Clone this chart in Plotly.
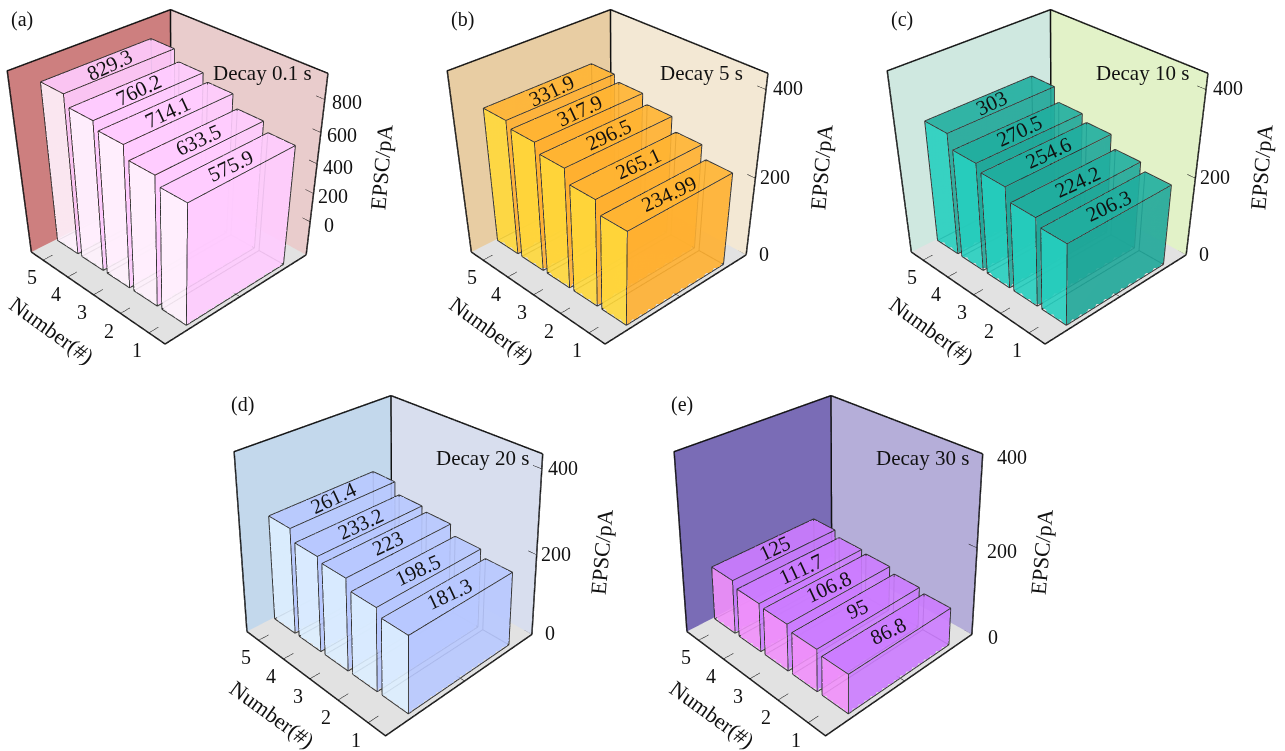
import plotly.graph_objects as go

panels = ["(a)", "(b)", "(c)", "(d)", "(e)"]
decay_labels = ["Decay 0.1 s", "Decay 5 s", "Decay 10 s", "Decay 20 s", "Decay 30 s"]
numbers = [1, 2, 3, 4, 5]
values_a = [575.9, 633.5, 714.1, 760.2, 829.3]
values_b = [234.99, 265.1, 296.5, 317.9, 331.9]
values_c = [206.3, 224.2, 254.6, 270.5, 303]
values_d = [181.3, 198.5, 223, 233.2, 261.4]
values_e = [86.8, 95, 106.8, 111.7, 125]
all_values = [values_a, values_b, values_c, values_d, values_e]
ztick_sets = [[0, 200, 400, 600, 800], [0, 200, 400], [0, 200, 400], [0, 200, 400], [0, 200, 400]]
zranges = [[-250, 950], [0, 433], [0, 433], [0, 433], [0, 400]]
wall_left = ["#cd7f7f", "#e8cda3", "#cfe8e0", "#c3d8ec", "#7a6cb6"]
wall_right = ["#e9cccc", "#f3e8d4", "#e2f2c8", "#d8deee", "#b5aed9"]
bar_front = ["#ffccff", "#ffb030", "#1fa799", "#b8c8ff", "#cc7cff"]
bar_left = ["#fff2fd", "#ffd83a", "#26cfbf", "#dceeff", "#f090fa"]
bar_top = ["#ffccff", "#ffb432", "#20ae9f", "#b8c8ff", "#cc7cff"]
offsets = [(0, 0), (440, 0), (880, 0), (220, 384.7), (660, 384.7)]
label_yshift = [-3, 1, 1, 1, -3]
label_xshift = [(18, 4), (18, 4), (18, 4), (18, 4), (21, 9)]

W, H = 1285, 751
cam_top = (-2.621, -2.7657, 2.2318, -0.971, -1.0595, 1.0016, 0.9739, 176.2441)
cam_bottom = (-2.5861, -2.7421, 2.2754, 1.6772, 1.627, 1.0085, 0.9895, 181.5932)

fig = go.Figure()
ymin, ymax = 0.46, 5.5
xmin, xmax = 0.0, 1.0
bx0, bx1 = 0.16, 0.85
hw = 0.42
layout = dict(width=W, height=H, margin=dict(l=0, r=0, t=0, b=0), autosize=False,
              paper_bgcolor="white", showlegend=False, annotations=[])
FONT = "Liberation Serif"
flat = dict(ambient=1, diffuse=0, specular=0, fresnel=0, roughness=1)


def paper(x, y, text, size=20, **kw):
    layout["annotations"].append(dict(xref="paper", yref="paper", x=x / W, y=1 - y / H, text=text, showarrow=False,
                                      xanchor="center", yanchor="middle",
                                      font=dict(family=FONT, size=size, color="#111"), **kw))


for n in range(5):
    sid = "scene" if n == 0 else f"scene{n+1}"
    ox, oy = offsets[n]
    ex, ey, ez, tx, ty, ay, az, cx = cam_top if n < 3 else cam_bottom
    zmin, zmax = zranges[n]
    vx = [xmin, xmax, xmax, xmin, xmax, xmax, xmax, xmax, xmin, xmax, xmax, xmin]
    vy = [ymax, ymax, ymax, ymax, ymin, ymax, ymax, ymin, ymin, ymin, ymax, ymax]
    vz = [zmin, zmin, zmax, zmax, zmin, zmin, zmax, zmax, zmin, zmin, zmin, zmin]
    ii = [0, 0, 4, 4, 8, 8]
    jj = [1, 2, 5, 6, 9, 10]
    kk = [2, 3, 6, 7, 10, 11]
    fc = [wall_left[n]] * 2 + [wall_right[n]] * 2 + ["#e2e2e2"] * 2
    fig.add_trace(go.Mesh3d(x=vx, y=vy, z=vz, i=ii, j=jj, k=kk, facecolor=fc, flatshading=True, scene=sid,
                            hoverinfo="skip", lighting=flat))
    inner_x, inner_y = xmax - 0.004, ymax - 0.02
    fx = [xmin, xmin, xmax, xmax, None, xmax, xmax, None, xmin, xmin, xmax, None, inner_x, inner_x]
    fy = [ymax, ymax, ymax, ymin, None, ymin, ymin, None, ymax, ymin, ymin, None, inner_y, inner_y]
    fz = [zmin, zmax, zmax, zmax, None, zmax, zmin, None, zmin, zmin, zmin, None, zmax, zmin]
    fig.add_trace(go.Scatter3d(x=fx, y=fy, z=fz, mode="lines", line=dict(color="#111", width=3), scene=sid,
                               hoverinfo="skip"))
    tick_x, tick_y, tick_z = [], [], []
    for v in numbers:
        tick_x += [xmin, xmin + 0.06, None]
        tick_y += [v, v, None]
        tick_z += [zmin, zmin, None]
    tick_x += [0.5, 0.5, None]
    tick_y += [ymin, ymin + 0.25, None]
    tick_z += [zmin, zmin, None]
    for v in ztick_sets[n]:
        tick_x += [xmax, xmax, None]
        tick_y += [ymin, ymin + 0.25, None]
        tick_z += [v, v, None]
    fig.add_trace(go.Scatter3d(x=tick_x, y=tick_y, z=tick_z, mode="lines", line=dict(color="#111", width=2),
                               scene=sid, hoverinfo="skip"))
    X, Y, Z, I, J, K, C = [], [], [], [], [], [], []
    edge_x, edge_y, edge_z = [], [], []
    base_z = zmin + 0.004 * (zmax - zmin)
    for num, val in sorted(zip(numbers, all_values[n]), reverse=True):
        b = len(X)
        y0, y1 = num - hw, num + hw
        X += [bx0, bx1, bx1, bx0, bx0, bx1, bx1, bx0]
        Y += [y0, y0, y1, y1, y0, y0, y1, y1]
        Z += [base_z] * 4 + [val] * 4
        quads = [((3, 0, 4, 7), bar_left[n]), ((0, 1, 5, 4), bar_front[n]), ((4, 5, 6, 7), bar_top[n])]
        for q, c in quads:
            I += [b + q[0], b + q[0]]
            J += [b + q[1], b + q[2]]
            K += [b + q[2], b + q[3]]
            C += [c, c]
        for s, e in [(0, 1), (1, 2), (2, 3), (3, 0), (4, 5), (5, 6), (6, 7), (7, 4), (0, 4), (1, 5), (2, 6), (3, 7)]:
            edge_x += [X[b + s], X[b + e], None]
            edge_y += [Y[b + s], Y[b + e], None]
            edge_z += [Z[b + s], Z[b + e], None]
    fig.add_trace(go.Scatter3d(x=edge_x, y=edge_y, z=edge_z, mode="lines", line=dict(color="#333", width=2),
                               scene=sid, hoverinfo="skip"))
    fig.add_trace(go.Mesh3d(x=X, y=Y, z=Z, i=I, j=J, k=K, facecolor=C, opacity=0.9, flatshading=True, scene=sid,
                            hoverinfo="skip", lighting=flat))
    base = dict(showarrow=False, font=dict(family=FONT, size=20, color="#111"))
    ann = []
    for num, val in zip(numbers, all_values[n]):
        ann.append(dict(x=(bx0 + bx1) / 2, y=num, z=val, text=str(val), textangle=-25,
                        showarrow=False, font=dict(family=FONT, size=21, color="#111")))
        ann.append(dict(x=xmin, y=num, z=zmin, text=str(num), xshift=-12, yshift=-17, **base))
    for v in ztick_sets[n]:
        t = (v - zmin) / (zmax - zmin)
        sx0, sx1 = label_xshift[n]
        ann.append(dict(x=xmax, y=ymin, z=v, text=str(v), xshift=sx0 + sx1 * t, yshift=label_yshift[n], **base))
    half = min(ox + cx, 170)
    pad = lambda a, b: [a - (b - a) * 0.002, b + (b - a) * 0.002]
    ydom = [0, 1 - 2 / H] if n < 3 else [0, 1]
    layout[sid] = dict(
        domain=dict(x=[(ox + cx - half) / W, (ox + cx + half) / W], y=ydom),
        aspectmode="manual", aspectratio=dict(x=1, y=ay, z=az),
        camera=dict(eye=dict(x=ex, y=ey, z=ez), center=dict(x=tx, y=ty, z=0), up=dict(x=0, y=0, z=1),
                    projection=dict(type="perspective")),
        xaxis=dict(visible=False, range=pad(xmin, xmax)),
        yaxis=dict(visible=False, range=pad(ymin, ymax)),
        zaxis=dict(visible=False, range=pad(zmin, zmax)),
        bgcolor="rgba(0,0,0,0)", annotations=ann)
    paper(ox + 22, oy + 20, panels[n])
    paper(ox + 262, oy + 73, decay_labels[n], size=21)
    paper(ox + 382, oy + 167, "EPSC/pA", size=22, textangle=-85)
    paper(ox + 52, oy + 330, "Number(#)", size=22, textangle=36)

fig.update_layout(**layout)
fig.write_html("out.html", config={"displayModeBar": False},
               post_script="document.body.style.margin='0';document.documentElement.style.overflow='hidden';")
